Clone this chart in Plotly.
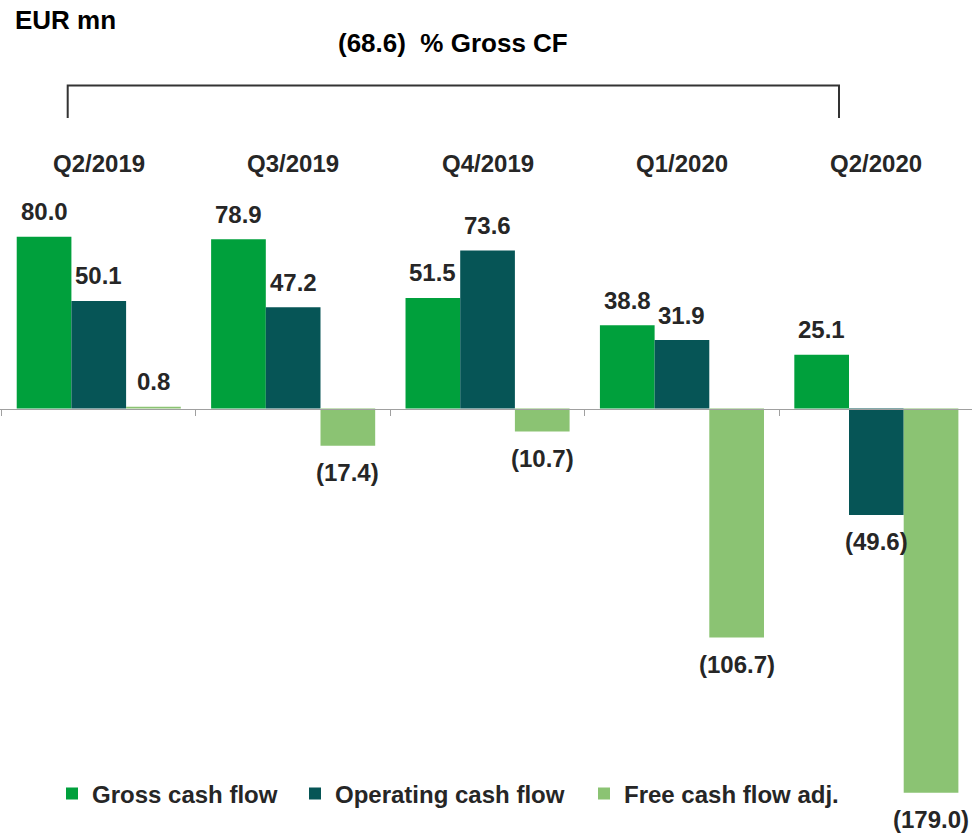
import plotly.graph_objects as go

# ---- data ----
quarters = ["Q2/2019", "Q3/2019", "Q4/2019", "Q1/2020", "Q2/2020"]
gross_cf = [80.0, 78.9, 51.5, 38.8, 25.1]
operating_cf = [50.1, 47.2, 73.6, 31.9, -49.6]
free_cf_adj = [0.8, -17.4, -10.7, -106.7, -179.0]
series_names = ["Gross cash flow", "Operating cash flow", "Free cash flow adj."]
ratio_label = "(68.6)\u00a0\u00a0% Gross CF"
unit_label = "EUR mn"

# ---- style ----
colors = ["#00A03C", "#065556", "#8BC373"]
legend_widths = [198, 244, 220]
FONT = "Liberation Sans, Arial, sans-serif"
TXT = "#262626"
W, H = 972, 837
y_min, y_max = -199.6, 190.3
bargap = 0.156

series = [gross_cf, operating_cf, free_cf_adj]

fig = go.Figure()
for name, vals, col, lw in zip(series_names, series, colors, legend_widths):
    fig.add_trace(go.Bar(
        x=quarters, y=vals, name=name,
        marker=dict(color=col, line=dict(width=0)),
        legendwidth=lw,
        hoverinfo="skip",
    ))

def fmt(v):
    return f"{v:.1f}" if v >= 0 else f"({abs(v):.1f})"

annotations = []
slot = (1 - bargap) / 3
for k, vals in enumerate(series):
    for i, v in enumerate(vals):
        annotations.append(dict(
            x=i + (k - 1) * slot, y=v, xref="x", yref="y",
            text="<b>%s</b>" % fmt(v), showarrow=False,
            xanchor="center", yanchor="middle",
            yshift=25 if v >= 0 else -27,
            font=dict(family=FONT, size=24, color=TXT),
        ))

# quarter labels
for i, q in enumerate(quarters):
    annotations.append(dict(
        x=i, y=1 - 163 / H, xref="x", yref="paper",
        text="<b>%s</b>" % q, showarrow=False,
        xanchor="center", yanchor="middle",
        font=dict(family=FONT, size=24, color=TXT),
    ))

annotations.append(dict(
    x=13 / W, y=1 - 20 / H, xref="paper", yref="paper",
    text="<b>%s</b>" % unit_label, showarrow=False,
    xanchor="left", yanchor="middle",
    font=dict(family=FONT, size=26, color="#000000"),
))
annotations.append(dict(
    x=452.5 / W, y=1 - 43 / H, xref="paper", yref="paper",
    text="<b>%s</b>" % ratio_label, showarrow=False,
    xanchor="center", yanchor="middle",
    font=dict(family=FONT, size=26, color="#000000"),
))

# bracket
bx0, bx1 = 67.7 / W, 839 / W
by_top, by_bot = 1 - 85.5 / H, 1 - 118 / H
shapes = [dict(
    type="path", xref="paper", yref="paper",
    path=f"M {bx0} {by_bot} L {bx0} {by_top} L {bx1} {by_top} L {bx1} {by_bot}",
    line=dict(color="#333333", width=2),
)]

zero_pos = (0 - y_min) / (y_max - y_min)

fig.update_layout(
    width=W, height=H,
    margin=dict(l=0, r=0, t=0, b=0, pad=0),
    paper_bgcolor="white", plot_bgcolor="white",
    barmode="group", bargap=bargap, bargroupgap=0,
    font=dict(family=FONT, size=24, color=TXT),
    annotations=annotations,
    shapes=shapes,
    showlegend=True,
    legend=dict(
        orientation="h", x=52 / W, xanchor="left",
        y=1 - 794 / H, yanchor="middle",
        font=dict(family=FONT, size=24, color=TXT, weight="bold"),
        bgcolor="rgba(0,0,0,0)", borderwidth=0,
        traceorder="normal",
    ),
    xaxis=dict(
        range=[-0.508, 4.492],
        anchor="free", position=zero_pos,
        showline=True, linecolor="#A0A0A0", linewidth=1.5,
        ticks="outside", tickson="boundaries", ticklen=6,
        tickcolor="#A0A0A0", tickwidth=1,
        showticklabels=False, showgrid=False, zeroline=False,
    ),
    yaxis=dict(
        range=[y_min, y_max], visible=False,
        showgrid=False, zeroline=False,
    ),
)

fig.write_html(
    "out.html",
    config={"displayModeBar": False, "staticPlot": True},
    post_script="document.body.style.margin='0';document.body.style.overflow='hidden';",
)
